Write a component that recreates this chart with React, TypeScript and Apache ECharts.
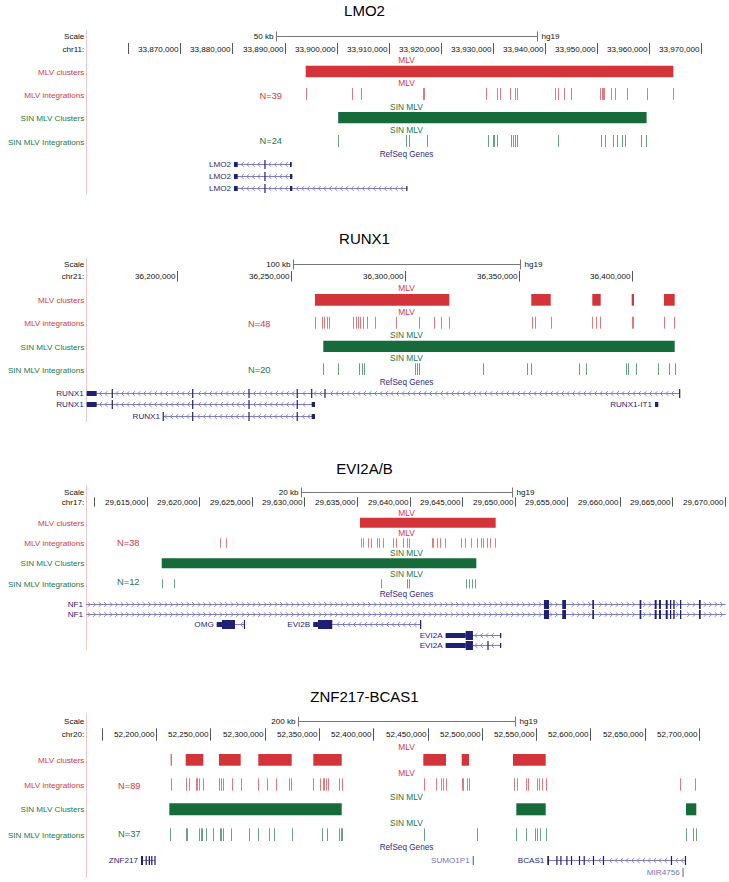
import React, { useEffect, useRef } from 'react';
import * as echarts from 'echarts';

// ---------------- data ----------------
const panelTitles = ['LMO2', 'RUNX1', 'EVI2A/B', 'ZNF217-BCAS1'];
const chromLabels = ['chr11:', 'chr21:', 'chr17:', 'chr20:'];
const scaleBarLabels = ['50 kb', '100 kb', '20 kb', '200 kb'];
const scaleBarSizes = [50000, 100000, 20000, 200000];
const viewStarts = [33851900, 36159870, 29609230, 52135540];
const viewEnds = [33974930, 36441630, 29670190, 52725780];
const trackNames = ['MLV clusters', 'MLV integrations', 'SIN MLV Clusters', 'SIN MLV Integrations'];
const trackShortNames = ['MLV', 'MLV', 'SIN MLV', 'SIN MLV'];
const mlvCounts = ['N=39', 'N=48', 'N=38', 'N=89'];
const sinCounts = ['N=24', 'N=20', 'N=12', 'N=37'];

// ruler ticks
const lmo2Ticks = [33860000, 33870000, 33880000, 33890000, 33900000, 33910000, 33920000, 33930000, 33940000, 33950000, 33960000, 33970000];
const lmo2TickLabels = ['', '33,870,000', '33,880,000', '33,890,000', '33,900,000', '33,910,000', '33,920,000', '33,930,000', '33,940,000', '33,950,000', '33,960,000', '33,970,000'];
const runx1Ticks = [36200000, 36250000, 36300000, 36350000, 36400000];
const runx1TickLabels = ['36,200,000', '36,250,000', '36,300,000', '36,350,000', '36,400,000'];
const evi2Ticks = [29610000, 29615000, 29620000, 29625000, 29630000, 29635000, 29640000, 29645000, 29650000, 29655000, 29660000, 29665000, 29670000];
const evi2TickLabels = ['', '29,615,000', '29,620,000', '29,625,000', '29,630,000', '29,635,000', '29,640,000', '29,645,000', '29,650,000', '29,655,000', '29,660,000', '29,665,000', '29,670,000'];
const znfTicks = [52150000, 52200000, 52250000, 52300000, 52350000, 52400000, 52450000, 52500000, 52550000, 52600000, 52650000, 52700000];
const znfTickLabels = ['', '52,200,000', '52,250,000', '52,300,000', '52,350,000', '52,400,000', '52,450,000', '52,500,000', '52,550,000', '52,600,000', '52,650,000', '52,700,000'];

// clusters [start, end]
const lmo2MlvClusters = [[33894070, 33964630]];
const lmo2SinClusters = [[33900300, 33959500]];
const runx1MlvClusters = [[36260500, 36319560], [36355600, 36364130], [36382420, 36386110], [36399740, 36400750], [36413930, 36418640]];
const runx1SinClusters = [[36264180, 36418640]];
const evi2MlvClusters = [[29635285, 29648190]];
const evi2SinClusters = [[29616430, 29646350]];
const znfMlvClusters = [[52213540, 52214460], [52227350, 52243550], [52258010, 52277990], [52294200, 52324950], [52344840, 52370990], [52446130, 52467030], [52481490, 52488210], [52528730, 52558840]];
const znfSinClusters = [[52212250, 52370990], [52531760, 52558840], [52688020, 52697510]];

// integration sites
const lmo2MlvIntegrations = [33894100, 33902900, 33904600, 33916500, 33916800, 33928600, 33930800, 33931300, 33933200, 33934200, 33934700, 33941900, 33942400, 33943700, 33944900, 33950600, 33950900, 33951100, 33951300, 33952600, 33953400, 33955700, 33959500, 33964500];
const lmo2SinIntegrations = [33900300, 33913400, 33913950, 33917300, 33929100, 33930100, 33930300, 33930700, 33933400, 33933900, 33934200, 33934700, 33942400, 33950800, 33951600, 33953100, 33953900, 33954700, 33955400, 33958400, 33959400];
const runx1MlvIntegrations = [36260600, 36263740, 36264620, 36265670, 36266680, 36277360, 36278420, 36279300, 36280310, 36281490, 36283250, 36286900, 36296000, 36306240, 36312840, 36316040, 36319400, 36355700, 36357230, 36364050, 36382500, 36384180, 36385800, 36399800, 36400440, 36414000, 36418330];
const runx1SinIntegrations = [36264250, 36270770, 36280000, 36281060, 36282070, 36304350, 36305230, 36306240, 36334510, 36353850, 36355340, 36376700, 36379520, 36397100, 36398110, 36401490, 36411300, 36416260, 36418600];
const evi2MlvIntegrations = [29621970, 29622540, 29635350, 29635540, 29636050, 29636300, 29636930, 29637120, 29637440, 29638450, 29638680, 29639400, 29639730, 29639970, 29642100, 29642230, 29642580, 29642890, 29643340, 29644920, 29645300, 29645870, 29646380, 29646760, 29647010, 29647330, 29647650, 29648150];
const evi2SinIntegrations = [29616450, 29617600, 29637250, 29639730, 29639920, 29645370, 29645650, 29645940, 29646250];
const znfMlvIntegrations = [52213540, 52227350, 52230660, 52236830, 52238030, 52239590, 52243000, 52258010, 52259580, 52261420, 52269700, 52277990, 52294200, 52301930, 52310500, 52322190, 52324030, 52344840, 52351010, 52353500, 52354690, 52356540, 52358650, 52368780, 52370990, 52446770, 52457820, 52462150, 52464550, 52467030, 52482040, 52482690, 52486650, 52488210, 52529650, 52532690, 52540970, 52542540, 52551100, 52552390, 52555700, 52558840, 52682500, 52696310];
const znfSinIntegrations = [52212890, 52227350, 52228550, 52239590, 52241160, 52242630, 52245760, 52252760, 52258930, 52260130, 52261420, 52269060, 52285910, 52294200, 52304330, 52308650, 52324950, 52352580, 52357180, 52368780, 52370070, 52370990, 52446770, 52495850, 52531760, 52540970, 52548710, 52551100, 52553590, 52558840, 52688300, 52694470, 52696960];

// RefSeq genes: exons [start, end, kind]  kind: 't' coding, 'm' UTR
const lmo2Genes = [
  { name: 'LMO2', row: 0, start: 33880300, end: 33891380, strand: -1, exons: [[33880300, 33881020, 'm'], [33886150, 33886350, 't'], [33891060, 33891380, 'm']] },
  { name: 'LMO2', row: 1, start: 33880300, end: 33891500, strand: -1, exons: [[33880300, 33881020, 'm'], [33886150, 33886350, 't'], [33891060, 33891500, 'm']] },
  { name: 'LMO2', row: 2, start: 33880300, end: 33913570, strand: -1, exons: [[33880300, 33881020, 'm'], [33886150, 33886350, 't'], [33891060, 33891500, 'm'], [33913400, 33913570, 'm']] },
];
const runx1Genes = [
  { name: 'RUNX1', row: 0, start: 36160180, end: 36420970, strand: -1, exons: [[36160180, 36164570, 'm'], [36171300, 36171550, 't'], [36206650, 36206900, 't'], [36231400, 36231650, 't'], [36252600, 36252850, 't'], [36258950, 36259200, 't'], [36264800, 36265050, 't'], [36420700, 36420970, 't']] },
  { name: 'RUNX1', row: 1, start: 36160180, end: 36260530, strand: -1, exons: [[36160180, 36164570, 'm'], [36171300, 36171550, 't'], [36206650, 36206900, 't'], [36231400, 36231650, 't'], [36252600, 36252850, 't'], [36259080, 36260530, 'm']] },
  { name: 'RUNX1', row: 2, start: 36193710, end: 36260530, strand: -1, exons: [[36193710, 36193950, 't'], [36206650, 36206900, 't'], [36231400, 36231650, 't'], [36252600, 36252850, 't'], [36259080, 36260530, 'm']] },
  { name: 'RUNX1-IT1', row: 1, start: 36409980, end: 36411430, strand: 0, exons: [[36409980, 36411430, 'm']] },
];
const nf1Exons = [[29652780, 29653260, 't'], [29654520, 29654880, 't'], [29657380, 29657540, 't'], [29661880, 29662040, 't'], [29663310, 29663500, 't'], [29663720, 29663910, 't'], [29664360, 29664550, 't'], [29664770, 29664890, 't'], [29665080, 29665210, 't'], [29665720, 29665840, 't'], [29667520, 29667690, 't']];
const evi2Genes = [
  { name: 'NF1', row: 0, start: 29600000, end: 29670060, strand: 1, exons: nf1Exons },
  { name: 'NF1', row: 1, start: 29600000, end: 29670060, strand: 1, exons: nf1Exons },
  { name: 'OMG', row: 2, start: 29621660, end: 29624350, strand: -1, exons: [[29621660, 29622160, 'm'], [29622160, 29623400, 't'], [29624250, 29624350, 't']] },
  { name: 'EVI2B', row: 2, start: 29630840, end: 29641110, strand: -1, exons: [[29630840, 29631290, 'm'], [29631290, 29632650, 't'], [29641000, 29641110, 't']] },
  { name: 'EVI2A', row: 3, start: 29643430, end: 29648720, strand: -1, exons: [[29643430, 29645340, 'm'], [29645340, 29646030, 't'], [29648600, 29648720, 'm']] },
  { name: 'EVI2A', row: 4, start: 29643430, end: 29648720, strand: -1, exons: [[29643430, 29645340, 'm'], [29645340, 29646030, 't'], [29647420, 29647500, 't'], [29648600, 29648720, 'm']] },
];
const znfGenes = [
  { name: 'ZNF217', row: 0, start: 52186190, end: 52199360, strand: -1, exons: [[52186190, 52188030, 't'], [52190520, 52191440, 't'], [52193280, 52194480, 't'], [52195670, 52196590, 't'], [52198800, 52199360, 't']] },
  { name: 'SUMO1P1', row: 0, start: 52491620, end: 52492810, strand: 0, light: true, exons: [[52491620, 52492810, 't']] },
  { name: 'BCAS1', row: 0, start: 52560310, end: 52687750, strand: -1, exons: [[52560310, 52561870, 't'], [52568900, 52569400, 't'], [52572600, 52573100, 't'], [52578100, 52578600, 't'], [52582350, 52582850, 't'], [52589700, 52590200, 't'], [52594050, 52594550, 't'], [52602600, 52603100, 't'], [52611800, 52612300, 't'], [52674400, 52674900, 't'], [52687300, 52687750, 't']] },
  { name: 'MIR4756', row: 1, start: 52685000, end: 52685600, strand: 0, light: true, exons: [[52685000, 52685600, 't']] },
];

const panelTicks = [lmo2Ticks, runx1Ticks, evi2Ticks, znfTicks];
const panelTickLabels = [lmo2TickLabels, runx1TickLabels, evi2TickLabels, znfTickLabels];
const panelMlvClusters = [lmo2MlvClusters, runx1MlvClusters, evi2MlvClusters, znfMlvClusters];
const panelSinClusters = [lmo2SinClusters, runx1SinClusters, evi2SinClusters, znfSinClusters];
const panelMlvIntegrations = [lmo2MlvIntegrations, runx1MlvIntegrations, evi2MlvIntegrations, znfMlvIntegrations];
const panelSinIntegrations = [lmo2SinIntegrations, runx1SinIntegrations, evi2SinIntegrations, znfSinIntegrations];
const panelGenes = [lmo2Genes, runx1Genes, evi2Genes, znfGenes];

// ---------------- layout & style ----------------
const W = 729;
const H = 882;
const LEFT = 86;
const RIGHT = 727;
const CX = (LEFT + RIGHT) / 2;
const FONT = '"Liberation Sans", Arial, Helvetica, sans-serif';
const RED = '#d2343a';
const RED_TEXT = '#d53a40';
const RED_TICK = '#d4474c';
const GREEN = '#176a3a';
const GREEN_TEXT = '#22794a';
const GREEN_TICK = '#2e8050';
const GENE = '#1f1f74';
const GENE_LIGHT = '#7474b4';
const INTRON = '#7d7dbf';
const REFSEQ_TEXT = '#2e2e84';

const layouts = [
  { title: 10, scale: 35.5, scaleText: 36, ruler: 49, rulerTop: 43, rulerBot: 54,
    labels: [60, 83, 107, 130], tops: [65.7, 88, 112, 135], bots: [77.3, 100, 123.3, 147], names: [72, 95, 118, 142],
    refseq: 154, genes: [164, 176, 188], lineTop: 30, lineBot: 194, nRight: 282, nY: [96, 141.3] },
  { title: 238.3, scale: 263.7, scaleText: 264.3, ruler: 276.7, rulerTop: 271, rulerBot: 281.5,
    labels: [288.3, 311.7, 335, 357.7], tops: [294, 316.7, 340.7, 363.3], bots: [305.7, 328.7, 352, 375], names: [300.3, 323.7, 347, 370],
    refseq: 382, genes: [393, 404.3, 416], lineTop: 258, lineBot: 422, nRight: 270.5, nY: [324.3, 370] },
  { title: 468.3, scale: 491.7, scaleText: 492, ruler: 502.7, rulerTop: 497.3, rulerBot: 506.7,
    labels: [512.7, 533.3, 553.3, 574], tops: [517.7, 538.3, 558.3, 579.3], bots: [527.7, 547.7, 568.3, 588.3], names: [523, 543.3, 563.7, 584.3],
    refseq: 594.3, genes: [604, 614.3, 624.3, 634.7, 645], lineTop: 485, lineBot: 650, nRight: 139.5, nY: [543.3, 581.7] },
  { title: 696.7, scale: 721, scaleText: 721.7, ruler: 734.3, rulerTop: 728.3, rulerBot: 740.7,
    labels: [747.3, 773.3, 797.3, 822.7], tops: [754, 778.3, 803.3, 828.3], bots: [765.7, 790.7, 815.3, 841], names: [760, 785, 809.7, 835],
    refseq: 847.7, genes: [860, 872.3], lineTop: 713, lineBot: 878, nRight: 140.5, nY: [786, 834] },
];

function textStyle(text: string, x: number, y: number, fill: string, size: number, align = 'right') {
  return {
    text, x, y, fill, fontSize: size, fontFamily: FONT,
    align, textAlign: align, verticalAlign: 'middle', textVerticalAlign: 'middle',
  };
}

function gText(text: string, x: number, y: number, fill: string, size: number, align = 'right') {
  return { type: 'text', silent: true, style: textStyle(text, x, y, fill, size, align) };
}

function rulerSeries(i: number) {
  const L = layouts[i];
  const labels = panelTickLabels[i];
  return {
    type: 'custom', xAxisIndex: i, yAxisIndex: i, clip: false, silent: true,
    data: panelTicks[i].map((t) => [t]),
    renderItem: (params: any, api: any) => {
      const v = api.value(0);
      const x = Math.round(api.coord([v, L.ruler])[0]) + 0.5;
      const y = api.coord([v, L.ruler])[1];
      const top = api.coord([v, L.rulerTop])[1];
      const bot = api.coord([v, L.rulerBot])[1];
      return {
        type: 'group',
        children: [
          { type: 'line', shape: { x1: x, y1: top, x2: x, y2: bot }, style: { stroke: '#555', lineWidth: 1 } },
          { type: 'text', style: textStyle(labels[params.dataIndex], x - 2, y, '#111', 8.1) },
        ],
      };
    },
  };
}

function scaleBarSeries(i: number) {
  const L = layouts[i];
  const c = (viewStarts[i] + viewEnds[i]) / 2;
  const s = scaleBarSizes[i];
  return {
    type: 'custom', xAxisIndex: i, yAxisIndex: i, clip: false, silent: true,
    data: [[c - s / 2, c + s / 2]],
    renderItem: (params: any, api: any) => {
      const p1 = api.coord([api.value(0), L.scale]);
      const p2 = api.coord([api.value(1), L.scale]);
      const x1 = Math.round(p1[0]) + 0.5;
      const x2 = Math.round(p2[0]) + 0.5;
      const y = Math.round(p1[1]) + 0.5;
      const st = { stroke: '#777', lineWidth: 1 };
      return {
        type: 'group',
        children: [
          { type: 'line', shape: { x1, y1: y, x2, y2: y }, style: st },
          { type: 'line', shape: { x1, y1: y - 5, x2: x1, y2: y + 5 }, style: st },
          { type: 'line', shape: { x1: x2, y1: y - 5, x2, y2: y + 5 }, style: st },
          { type: 'text', style: textStyle(scaleBarLabels[i], x1 - 3, y, '#111', 8.1, 'right') },
          { type: 'text', style: textStyle('hg19', x2 + 4, y, '#111', 8.1, 'left') },
        ],
      };
    },
  };
}

function clusterSeries(i: number, data: number[][], track: number, color: string) {
  const L = layouts[i];
  return {
    type: 'custom', xAxisIndex: i, yAxisIndex: i, clip: false, silent: true,
    data,
    renderItem: (params: any, api: any) => {
      const a = api.coord([api.value(0), L.tops[track]]);
      const b = api.coord([api.value(1), L.bots[track]]);
      const x1 = Math.max(a[0], LEFT);
      const x2 = Math.min(b[0], RIGHT);
      return {
        type: 'rect',
        shape: { x: x1, y: a[1], width: Math.max(x2 - x1, 1), height: b[1] - a[1] },
        style: { fill: color },
      };
    },
  };
}

function integrationSeries(i: number, data: number[], track: number, color: string) {
  const L = layouts[i];
  return {
    type: 'custom', xAxisIndex: i, yAxisIndex: i, clip: false, silent: true,
    data: data.map((d) => [d]),
    renderItem: (params: any, api: any) => {
      const v = api.value(0);
      const a = api.coord([v, L.tops[track]]);
      const b = api.coord([v, L.bots[track]]);
      const x = Math.round(a[0]) + 0.5;
      return {
        type: 'line',
        shape: { x1: x, y1: a[1], x2: x, y2: b[1] },
        style: { stroke: color, lineWidth: 1, opacity: 0.72 },
      };
    },
  };
}

function geneSeries(i: number) {
  const L = layouts[i];
  const genes: any[] = panelGenes[i];
  return {
    type: 'custom', xAxisIndex: i, yAxisIndex: i, clip: false, silent: true,
    data: genes.map((g) => [g.start, g.end]),
    renderItem: (params: any, api: any) => {
      const g = genes[params.dataIndex];
      const rowY = L.genes[g.row];
      const px = (v: number) => api.coord([v, rowY])[0];
      const y = Math.round(api.coord([api.value(0), rowY])[1]) + 0.5;
      const xs = px(api.value(0));
      const xe = px(api.value(1));
      const x1 = Math.max(xs, LEFT);
      const x2 = Math.min(xe, RIGHT);
      const color = g.light ? GENE_LIGHT : GENE;
      const children: any[] = [];
      children.push({ type: 'text', style: textStyle(g.name, x1 - 3, y, color, 8.1, 'right') });
      const exonPx = g.exons.map((ex: any[]) => {
        let a = px(ex[0]);
        let b = px(ex[1]);
        if (b - a < 1.2) {
          const m = (a + b) / 2;
          a = m - 0.6;
          b = m + 0.6;
        }
        return [a, b, ex[2]];
      });
      if (g.strand !== 0 && x2 - x1 > 2) {
        children.push({ type: 'line', shape: { x1, y1: y, x2, y2: y }, style: { stroke: INTRON, lineWidth: 1 } });
        const d = g.strand < 0 ? -1 : 1;
        for (let cx = x1 + 3; cx < x2 - 2; cx += 5.5) {
          if (exonPx.some((e: any[]) => cx > e[0] - 2 && cx < e[1] + 2)) continue;
          children.push({
            type: 'polyline',
            shape: { points: [[cx - d * 1.3, y - 2.3], [cx + d * 1.3, y], [cx - d * 1.3, y + 2.3]] },
            style: { stroke: INTRON, fill: 'none', lineWidth: 0.9 },
          });
        }
      }
      exonPx.forEach((e: any[]) => {
        const a = Math.max(e[0], LEFT);
        const b = Math.min(e[1], RIGHT);
        if (b <= a) return;
        const h = e[2] === 't' ? 9 : 5;
        children.push({ type: 'rect', shape: { x: a, y: y - h / 2, width: b - a, height: h }, style: { fill: color } });
      });
      return { type: 'group', children };
    },
  };
}

function buildOption() {
  const grid: any[] = [];
  const xAxis: any[] = [];
  const yAxis: any[] = [];
  const series: any[] = [];
  const graphics: any[] = [];

  layouts.forEach((L, i) => {
    grid.push({ left: LEFT, top: 0, width: RIGHT - LEFT, height: H });
    xAxis.push({ type: 'value', gridIndex: i, min: viewStarts[i], max: viewEnds[i], show: false });
    yAxis.push({ type: 'value', gridIndex: i, min: 0, max: H, inverse: true, show: false });

    series.push(rulerSeries(i));
    series.push(scaleBarSeries(i));
    series.push(clusterSeries(i, panelMlvClusters[i], 0, RED));
    series.push(integrationSeries(i, panelMlvIntegrations[i], 1, RED_TICK));
    series.push(clusterSeries(i, panelSinClusters[i], 2, GREEN));
    series.push(integrationSeries(i, panelSinIntegrations[i], 3, GREEN_TICK));
    series.push(geneSeries(i));

    graphics.push({
      type: 'line', silent: true,
      shape: { x1: LEFT + 0.5, y1: L.lineTop, x2: LEFT + 0.5, y2: L.lineBot },
      style: { stroke: '#f3c6c6', lineWidth: 1 },
    });
    graphics.push(gText(panelTitles[i], 364.5, L.title, '#000', 15, 'center'));
    graphics.push(gText('Scale', 84.3, L.scaleText, '#111', 8.1));
    graphics.push(gText(chromLabels[i], 84.3, L.ruler, '#111', 8.1));
    trackNames.forEach((name, t) => {
      const col = t < 2 ? RED_TEXT : GREEN_TEXT;
      graphics.push(gText(name, 84.3, L.names[t], col, 8.1));
      graphics.push(gText(trackShortNames[t], CX, L.labels[t], col, 8.4, 'center'));
    });
    graphics.push(gText(mlvCounts[i], L.nRight, L.nY[0], RED_TEXT, 9.3));
    graphics.push(gText(sinCounts[i], L.nRight, L.nY[1], GREEN_TEXT, 9.3));
    graphics.push(gText('RefSeq Genes', CX, L.refseq, REFSEQ_TEXT, 8.2, 'center'));
  });

  return {
    animation: false,
    backgroundColor: '#ffffff',
    grid,
    xAxis,
    yAxis,
    series,
    graphic: { elements: graphics },
  };
}

export default function App() {
  const ref = useRef<HTMLDivElement>(null);
  useEffect(() => {
    if (!ref.current) return;
    const chart = echarts.init(ref.current, undefined, { renderer: 'svg' });
    chart.setOption(buildOption() as any);
    return () => chart.dispose();
  }, []);
  return (
    <div
      ref={ref}
      style={{ position: 'absolute', left: 0, top: 0, width: W, height: H, background: '#fff' }}
    />
  );
}
